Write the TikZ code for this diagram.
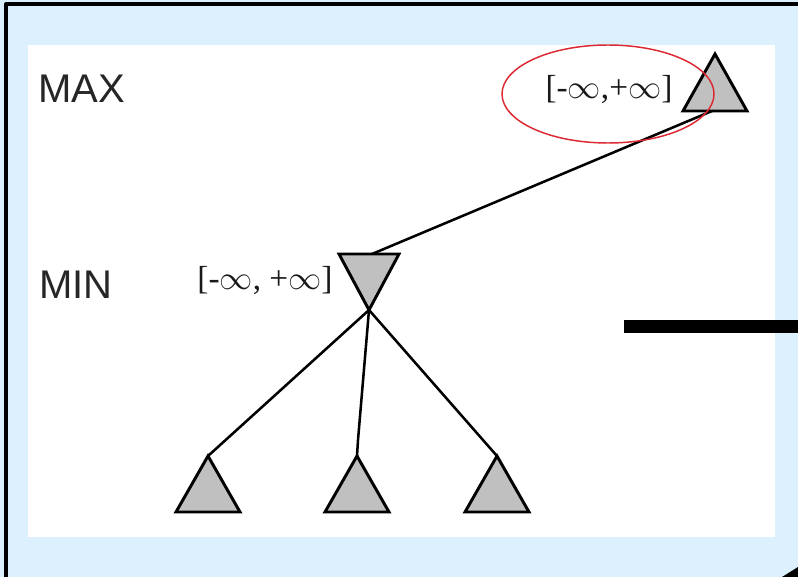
\documentclass[tikz,border=0pt]{standalone}
\usepackage{fontspec}
\setmainfont{Liberation Serif}
\newfontfamily\arialfont{Liberation Sans}
\definecolor{paleblue}{RGB}{220,241,253}
\definecolor{trigray}{RGB}{192,192,192}
\definecolor{ringred}{RGB}{220,40,50}
\tikzset{
  tri/.style={line width=2.2pt,fill=trigray,line join=miter},
  edge/.style={line width=1.9pt},
  lvl/.style={font=\arialfont\fontsize{30}{34}\selectfont,inner sep=0pt,text=black!85},
  bnd/.style={font=\fontsize{25}{30}\selectfont,inner sep=0pt,text=black!90}
}

\begin{document}
\begin{tikzpicture}[line cap=round,line join=round,x=0.75pt,y=-0.75pt]
\useasboundingbox (0,0) rectangle (798,577);
\fill[paleblue] (0,0) rectangle (798,577);
\fill[white] (28,45) rectangle (775,537);
\draw[line width=2.4pt,line cap=butt] (6,577)-- (6,4)-- (798,4);
% level names
\node[lvl] (max) at (82,89) {MAX};
\node[lvl] (min) at (76,285) {MIN};
% tree points
\coordinate (rtop) at (715,54);
\coordinate (rbot) at (712,111);
\coordinate (mtop) at (372,254);
\coordinate (mbot) at (369,310);
\coordinate (c1) at (208,456);
\coordinate (c2) at (357,456);
\coordinate (c3) at (497,456);
\draw [edge] (rbot)-- (mtop);
\draw [edge] (mbot)-- (c1);
\draw [edge] (mbot)-- (358,440)-- (c2);
\draw [edge] (mbot)-- (c3);
\draw [tri] (rtop)-- (747,111)-- (683,111)-- cycle;
\draw [tri] (339,254)-- (399,254)-- (mbot)-- cycle;
\foreach \c in {c1,c2,c3}
  \draw [tri] (\c)-- ++(32,56)-- ++(-64,0)-- cycle;
% bounds
\node[bnd] (rb) at (609,90) {[-$\infty$,+$\infty$]};
\node[bnd] (mb) at (265,280) {[-$\infty$, +$\infty$]};
\draw[ringred,line width=1.1pt] (608,94) ellipse [x radius=106,y radius=49];
% right side marks
\fill[black] (624,320) rectangle (798,333);
\fill[black] (782,577)-- (798,567)-- (798,577)-- cycle;
\end{tikzpicture}
\end{document}
